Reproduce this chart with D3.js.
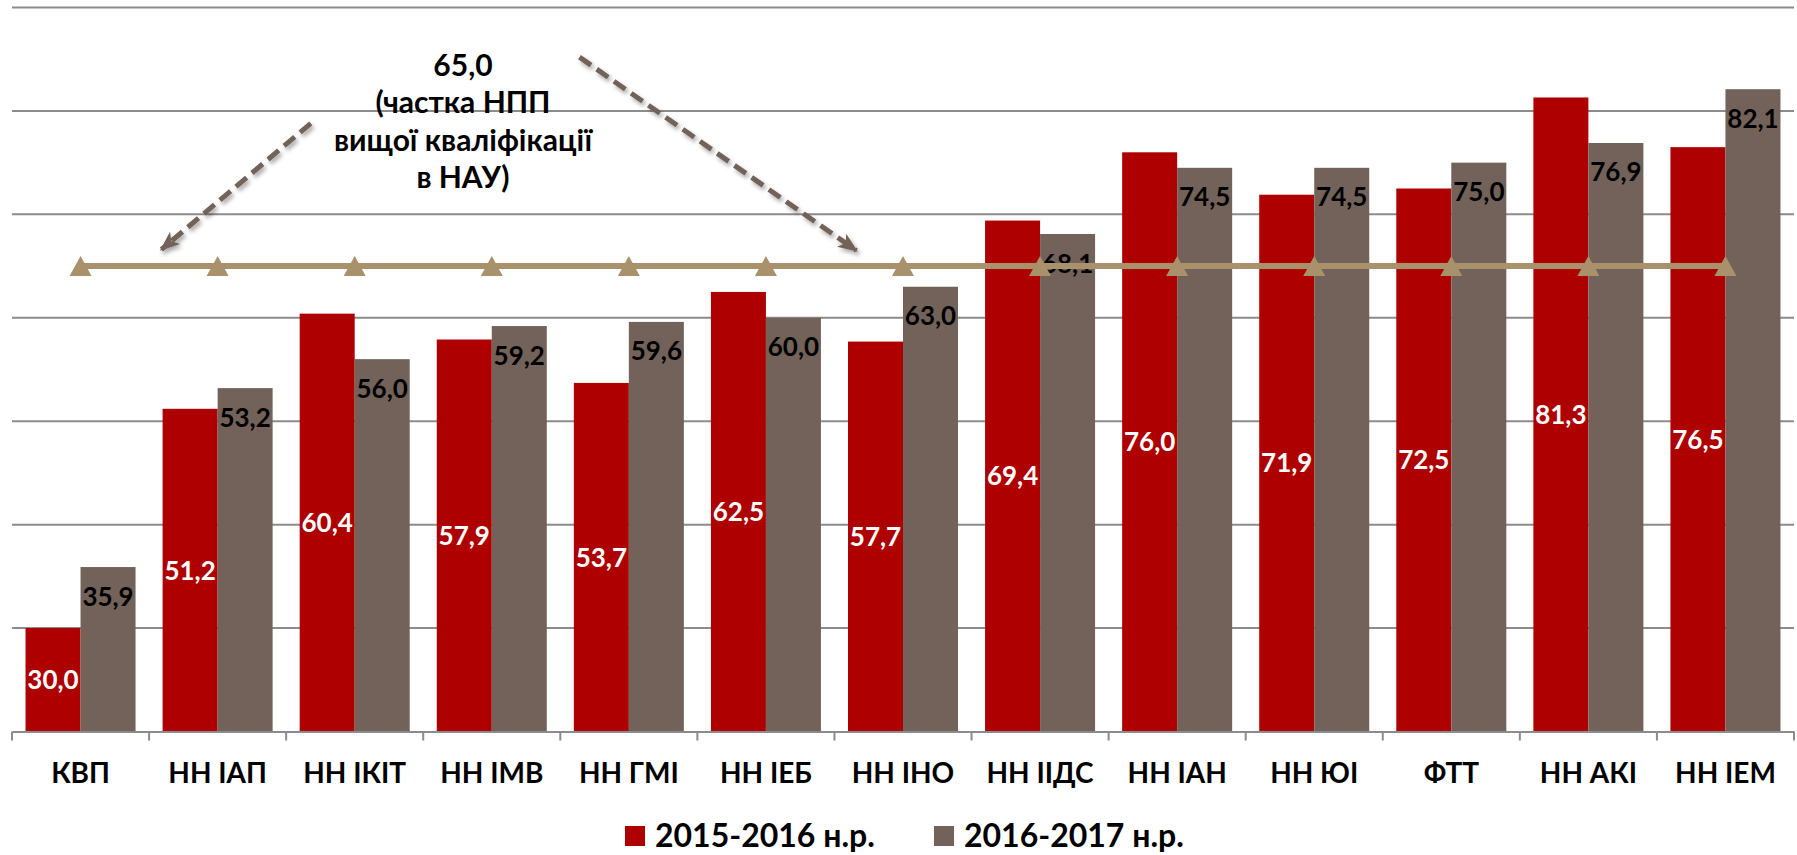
<!DOCTYPE html>
<html lang="uk">
<head>
<meta charset="UTF-8">
<title>Частка НПП вищої кваліфікації</title>
<script src="https://d3js.org/d3.v7.min.js"></script>
<style>
  body { margin: 0; padding: 0; background: #fff; }
  svg { display: block; font-family: Lato, "Open Sans", sans-serif; font-weight: bold; }
</style>
</head>
<body>
<svg id="chart" width="1797" height="855"></svg>
<script>
const categories = ["КВП", "НН ІАП", "НН ІКІТ", "НН ІМВ", "НН ГМІ", "НН ІЕБ", "НН ІНО",
                    "НН ІІДС", "НН ІАН", "НН ЮІ", "ФТТ", "НН АКІ", "НН ІЕМ"];
const seriesNames = ["2015-2016 н.р.", "2016-2017 н.р."];
const values2015 = [30.0, 51.2, 60.4, 57.9, 53.7, 62.5, 57.7, 69.4, 76.0, 71.9, 72.5, 81.3, 76.5];
const values2016 = [35.9, 53.2, 56.0, 59.2, 59.6, 60.0, 63.0, 68.1, 74.5, 74.5, 75.0, 76.9, 82.1];
const targetValue = 65.0;
const targetLines = ["65,0", "(частка НПП", "вищої кваліфікації", "в НАУ)"];
const yTicks = [30, 40, 50, 60, 70, 80, 90];

const colors = ["#ae0000", "#736259"];
const lineColor = "#a8916b";

const svg = d3.select("#chart");
const fmt = v => v.toFixed(1).replace(".", ",");

const x0 = d3.scaleBand().domain(categories).range([12, 1794]);
const x1 = d3.scaleBand().domain(seriesNames).range([0, x0.bandwidth()]).paddingOuter(0.246);
const xi = d3.scaleLinear().domain([0, categories.length]).range([12, 1794]); // band units, for annotations
const y = d3.scaleLinear().domain([20, 90]).range([731.5, 7.5]);

// shadow for arrows
const defs = svg.append("defs");
defs.append("filter").attr("id", "shadow").attr("x", "-20%").attr("y", "-20%").attr("width", "140%").attr("height", "140%")
  .append("feDropShadow").attr("dx", 2).attr("dy", 3).attr("stdDeviation", 2)
  .attr("flood-color", "#000").attr("flood-opacity", 0.35);
defs.append("marker").attr("id", "arrow")
  .attr("viewBox", "0 0 20 20").attr("refX", 18).attr("refY", 10)
  .attr("markerWidth", 20).attr("markerHeight", 20)
  .attr("markerUnits", "userSpaceOnUse").attr("orient", "auto")
  .append("path").attr("d", "M0,2 L20,10 L0,18 L5,10 Z").attr("fill", colors[1]);

// gridlines
svg.append("g").selectAll("line").data(yTicks).join("line")
  .attr("x1", 12).attr("x2", 1794)
  .attr("y1", d => y(d)).attr("y2", d => y(d))
  .attr("stroke", "#8c8c8c").attr("stroke-width", 2);

// bars
const rows = categories.map((c, i) => ({ cat: c, vals: [values2015[i], values2016[i]] }));
const groups = svg.append("g").selectAll("g").data(rows).join("g")
  .attr("transform", d => `translate(${x0(d.cat)},0)`);
groups.selectAll("rect").data(d => d.vals.map((v, k) => ({ v, k }))).join("rect")
  .attr("x", d => x1(seriesNames[d.k]))
  .attr("width", x1.bandwidth())
  .attr("y", d => y(d.v))
  .attr("height", d => y(20) - y(d.v))
  .attr("fill", d => colors[d.k]);

// x axis
const axis = svg.append("g").attr("transform", `translate(0,${y(20)})`)
  .call(d3.axisBottom(x0).tickSize(0).tickPadding(0));
axis.select(".domain").attr("stroke", "#8c8c8c").attr("stroke-width", 2);
axis.selectAll(".tick text").attr("y", 51).attr("dy", 0)
  .style("font-family", "Lato, sans-serif").style("font-weight", "bold")
  .style("font-size", "28px").attr("fill", "#000");
svg.append("g").selectAll("line").data(d3.range(categories.length + 1)).join("line")
  .attr("x1", d => xi(d)).attr("x2", d => xi(d))
  .attr("y1", y(20)).attr("y2", y(20) + 9)
  .attr("stroke", "#8c8c8c").attr("stroke-width", 2);

// target line with triangles
const targetPts = categories.map(c => ({ cat: c, v: targetValue }));
const line = d3.line().x(d => x0(d.cat) + x0.bandwidth() / 2).y(d => y(d.v));
svg.append("path").datum(targetPts).attr("d", line)
  .attr("fill", "none").attr("stroke", lineColor).attr("stroke-width", 6);
svg.append("g").selectAll("path").data(targetPts).join("path")
  .attr("transform", d => `translate(${x0(d.cat) + x0.bandwidth() / 2},${y(d.v)})`)
  .attr("d", "M-11,10 L0,-10 L11,10 Z")
  .attr("fill", lineColor);

// value labels
groups.selectAll("text").data(d => d.vals.map((v, k) => ({ v, k }))).join("text")
  .attr("x", d => x1(seriesNames[d.k]) + x1.bandwidth() / 2)
  .attr("y", d => d.k === 0 ? (y(d.v) + y(20)) / 2 : y(d.v) + 38.5)
  .attr("dy", d => d.k === 0 ? "0.36em" : 0)
  .attr("text-anchor", "middle")
  .attr("font-size", 26)
  .attr("fill", d => d.k === 0 ? "#fff" : "#000")
  .text(d => fmt(d.v));

// annotation
const ann = svg.append("text").attr("text-anchor", "middle").attr("font-size", 30).attr("fill", "#000");
ann.selectAll("tspan").data(targetLines).join("tspan")
  .attr("x", xi(3.29))
  .attr("y", (d, i) => y(83.4) + i * 37.5)
  .text(d => d);

const arrows = [
  { from: [2.18, 78.8], to: [1.09, 66.6] },
  { from: [4.14, 85.2], to: [6.16, 66.5] }
];
svg.append("g").selectAll("line").data(arrows).join("line")
  .attr("x1", d => xi(d.from[0])).attr("y1", d => y(d.from[1]))
  .attr("x2", d => xi(d.to[0])).attr("y2", d => y(d.to[1]))
  .attr("stroke", colors[1]).attr("stroke-width", 5)
  .attr("stroke-dasharray", "14 7")
  .attr("marker-end", "url(#arrow)")
  .attr("filter", "url(#shadow)");

// legend
const legendX = [625, 934];
const legend = svg.append("g").selectAll("g").data(seriesNames).join("g")
  .attr("transform", (d, i) => `translate(${legendX[i]},826)`);
legend.append("rect").attr("width", 20).attr("height", 20).attr("fill", (d, i) => colors[i]);
legend.append("text").attr("x", 30).attr("y", 21).attr("font-size", 32).attr("fill", "#000").text(d => d);
</script>
</body>
</html>
